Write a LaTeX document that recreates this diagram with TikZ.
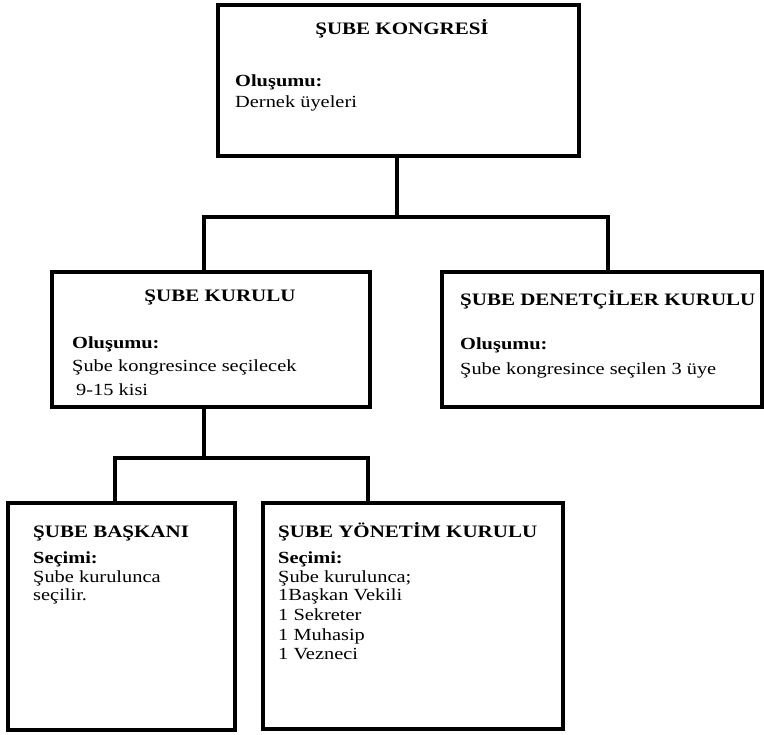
\documentclass[tikz,border=0pt]{standalone}
\usepackage{fontspec}
\setmainfont{Liberation Serif}[FakeStretch=1.2]
\begin{document}
\begin{tikzpicture}[x=1pt,y=-1pt,
  box/.style={draw, line width=3.5pt, inner sep=0pt},
  conn/.style={line width=3.5pt},
  ttl/.style={font=\fontsize{17.5}{21}\selectfont\bfseries, inner sep=0pt, anchor=base west},
  hd/.style={font=\fontsize{17}{20}\selectfont\bfseries, inner sep=0pt, anchor=base west},
  txt/.style={font=\fontsize{17}{20}\selectfont, inner sep=0pt, anchor=base west}]
\fill[white] (0,0) rectangle (764,735);
\useasboundingbox (0,0) rectangle (764,735);

% boxes
\node[box, minimum width=361pt, minimum height=151pt] (top) at (398.5,80.5) {};
\node[box, minimum width=318pt, minimum height=135pt] (kurul) at (211,339.5) {};
\node[box, minimum width=320pt, minimum height=135pt] (denet) at (602,339.5) {};
\node[box, minimum width=227pt, minimum height=227pt] (baskan) at (121.5,616.5) {};
\node[box, minimum width=300pt, minimum height=226pt] (yon) at (413,616) {};

% texts
\node[ttl, anchor=base] (t1) at (402,35) {ŞUBE KONGRESİ};
\node[hd] (t1a) at (235,87) {Oluşumu:};
\node[txt] (t1b) at (235,108) {Dernek üyeleri};

\node[ttl, anchor=base] (t2) at (220,302) {ŞUBE KURULU};
\node[hd] (t2a) at (72,349) {Oluşumu:};
\node[txt] (t2b) at (72,372) {Şube kongresince seçilecek};
\node[txt] (t2c) at (76,396) {9-15 kisi};

\node[ttl] (t3) at (460,306) {ŞUBE DENETÇİLER KURULU};
\node[hd] (t3a) at (460,350) {Oluşumu:};
\node[txt] (t3b) at (460,375) {Şube kongresince seçilen 3 üye};

\node[ttl] (t4) at (33,538) {ŞUBE BAŞKANI};
\node[hd] (t4a) at (33,563) {Seçimi:};
\node[txt] (t4b) at (33,582) {Şube kurulunca};
\node[txt] (t4c) at (33,601) {seçilir.};

\node[ttl] (t5) at (278,538) {ŞUBE YÖNETİM KURULU};
\node[hd] (t5a) at (278,563) {Seçimi:};
\node[txt] (t5b) at (278,582) {Şube kurulunca;};
\node[txt] (t5c) at (278,601) {1Başkan Vekili};
\node[txt] (t5d) at (278,620) {1 Sekreter};
\node[txt] (t5e) at (278,640) {1 Muhasip};
\node[txt] (t5f) at (278,659) {1 Vezneci};

% connectors
\coordinate (b1) at (397,217);
\coordinate (c1) at (204,217);
\coordinate (c2) at (608,217);
\draw[conn] (top.south -| b1) -- (b1);
\draw[conn] (kurul.north -| c1) |- (b1) -| (denet.north -| c2);

\coordinate (b2) at (204,458);
\coordinate (c3) at (115,458);
\coordinate (c4) at (368,458);
\draw[conn] (kurul.south -| b2) -- (b2);
\draw[conn] (baskan.north -| c3) |- (b2) -| (yon.north -| c4);
\end{tikzpicture}
\end{document}
